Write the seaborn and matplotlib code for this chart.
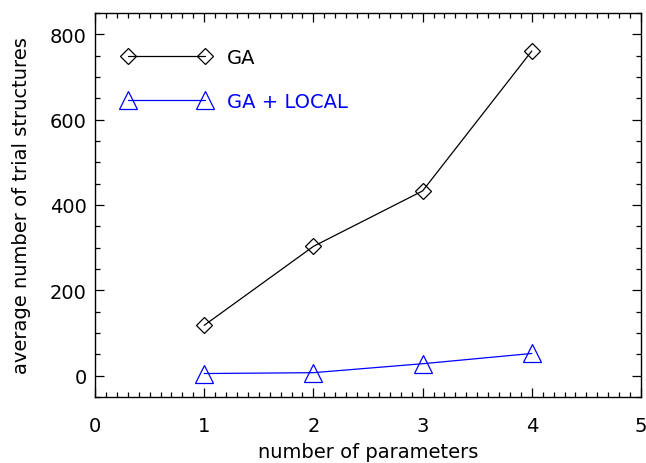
import matplotlib
matplotlib.use("Agg")
import matplotlib.pyplot as plt
import seaborn as sns
import pandas as pd
from matplotlib.ticker import MultipleLocator

n_params = [1, 2, 3, 4]
ga_values = [118, 303, 433, 761]
ga_local_values = [5, 7, 28, 52]
series_labels = ["GA", "GA + LOCAL"]

sns.set_style("ticks", {"text.color": "black", "axes.labelcolor": "black",
                        "xtick.color": "black", "ytick.color": "black"})
plt.rcParams['font.family'] = ['DejaVu Sans']
FS = 14

fig = plt.figure(figsize=(6.46, 4.64), dpi=100)
ax = fig.add_axes([95/646, 1 - 398/464, (641-95)/646, (398-14)/464])

df = pd.DataFrame({"x": n_params * 2,
                   "y": ga_values + ga_local_values,
                   "s": [series_labels[0]] * 4 + [series_labels[1]] * 4})

sns.lineplot(data=df[df.s == series_labels[0]], x="x", y="y", ax=ax, color="black",
             linewidth=0.9, marker="D", markersize=8.5, markerfacecolor="none",
             markeredgecolor="black", markeredgewidth=0.9, label=series_labels[0])
sns.lineplot(data=df[df.s == series_labels[1]], x="x", y="y", ax=ax, color="blue",
             linewidth=0.9, marker="^", markersize=12.5, markerfacecolor="none",
             markeredgecolor="blue", markeredgewidth=0.9, label=series_labels[1])

ax.set_xlim(0, 5)
ax.set_ylim(-50, 850)
ax.xaxis.set_major_locator(MultipleLocator(1))
ax.xaxis.set_minor_locator(MultipleLocator(0.1))
ax.yaxis.set_major_locator(MultipleLocator(200))
ax.yaxis.set_minor_locator(MultipleLocator(50))
ax.tick_params(which="both", direction="in", top=True, right=True, width=0.9, colors="black")
ax.tick_params(which="major", length=6.5, labelsize=FS)
ax.tick_params(axis="x", which="major", pad=14)
ax.tick_params(axis="y", which="major", pad=6)
ax.tick_params(which="minor", length=3.5)
for sp in ax.spines.values():
    sp.set_linewidth(1.0)
    sp.set_color("black")

ax.set_xlabel("number of parameters", fontsize=FS, color="black")
ax.set_ylabel("average number of trial structures", fontsize=FS, color="black")
ax.xaxis.set_label_coords(0.5, -0.118)
ax.yaxis.set_label_coords(-0.118, 0.5)

leg = ax.legend(loc="upper left", frameon=False, numpoints=2, handlelength=4.56,
                handletextpad=0.85, labelspacing=1.3, borderaxespad=0.0, borderpad=0.0,
                bbox_to_anchor=(0.049, 0.909), labelcolor="linecolor", fontsize=FS)

fig.savefig("out.png", dpi=100)
